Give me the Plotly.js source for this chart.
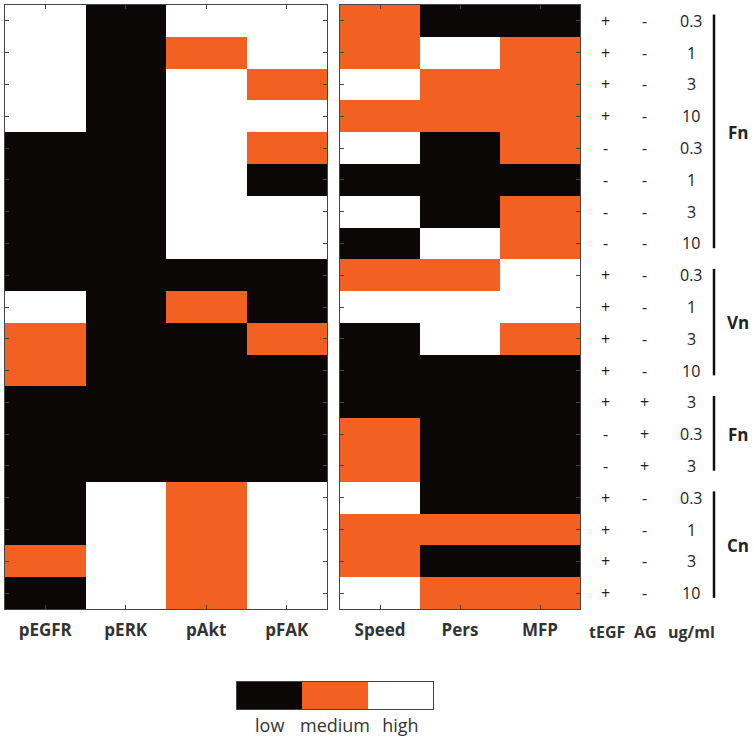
<!DOCTYPE html>
<html>
<head>
<meta charset="utf-8">
<script src="https://cdn.plot.ly/plotly-3.0.1.min.js"></script>
<style>
  body { margin: 0; background: #fff; }
  #chart { width: 754px; height: 739px; }
</style>
</head>
<body>
<div id="chart"></div>
<script>
// 0 = low, 1 = medium, 2 = high  (19 conditions, top to bottom)
const pEGFR = [2, 2, 2, 2, 0, 0, 0, 0, 0, 2, 1, 1, 0, 0, 0, 0, 0, 1, 0];
const pERK  = [0, 0, 0, 0, 0, 0, 0, 0, 0, 0, 0, 0, 0, 0, 0, 2, 2, 2, 2];
const pAkt  = [2, 1, 2, 2, 2, 2, 2, 2, 0, 1, 0, 0, 0, 0, 0, 1, 1, 1, 1];
const pFAK  = [2, 2, 1, 2, 1, 0, 2, 2, 0, 0, 1, 0, 0, 0, 0, 2, 2, 2, 2];
const speed = [1, 1, 2, 1, 2, 0, 2, 0, 1, 2, 0, 0, 0, 1, 1, 2, 1, 1, 2];
const pers  = [0, 2, 1, 1, 0, 0, 0, 2, 1, 2, 2, 0, 0, 0, 0, 0, 1, 0, 1];
const mfp   = [0, 1, 1, 1, 1, 0, 1, 1, 2, 2, 1, 0, 0, 0, 0, 0, 1, 0, 1];

const signalLabels = ['pEGFR', 'pERK', 'pAkt', 'pFAK'];
const phenoLabels = ['Speed', 'Pers', 'MFP'];

const tEGF = ['+', '+', '+', '+', '-', '-', '-', '-', '+', '+', '+', '+', '+', '-', '-', '+', '+', '+', '+'];
const AG   = ['-', '-', '-', '-', '-', '-', '-', '-', '-', '-', '-', '-', '+', '+', '+', '-', '-', '-', '-'];
const conc = ['0.3', '1', '3', '10', '0.3', '1', '3', '10', '0.3', '1', '3', '10', '3', '0.3', '3', '0.3', '1', '3', '10'];

// 基質グループ（開始行, 終了行, ラベル）
const groups = [
    { first: 0, last: 7, name: 'Fn' },
    { first: 8, last: 11, name: 'Vn' },
    { first: 12, last: 14, name: 'Fn' },
    { first: 15, last: 18, name: 'Cn' }
];

const levelLabels = ['low', 'medium', 'high'];

const W = 754, H = 739;
const px = v => v / W;
const py = v => 1 - v / H;

const rows = pEGFR.map((_, i) => i);
const colorscale = [[0, '#0b0707'], [0.5, '#f26122'], [1, '#ffffff']];

const leftZ = rows.map(i => [pEGFR[i], pERK[i], pAkt[i], pFAK[i]]);
const rightZ = rows.map(i => [speed[i], pers[i], mfp[i]]);

const base = { type: 'heatmap', colorscale: colorscale, zmin: 0, zmax: 2, showscale: false, hoverinfo: 'skip' };

const traces = [
    Object.assign({}, base, { z: leftZ, x: [0, 1, 2, 3], y: rows, xaxis: 'x', yaxis: 'y' }),
    Object.assign({}, base, { z: rightZ, x: [0, 1, 2], y: rows, xaxis: 'x2', yaxis: 'y2' }),
    Object.assign({}, base, { z: [[0, 1, 2]], x: [0, 1, 2], y: [0], xaxis: 'x3', yaxis: 'y3' })
];

const FAMILY = 'Open Sans, sans-serif';
const labelFont = { family: FAMILY, size: 17, color: '#333' };

function panelX(domain, labels) {
    return {
        domain: domain,
        range: [-0.5, labels.length - 0.5],
        tickvals: labels.map((_, i) => i),
        ticktext: labels.map(s => '<b>' + s + '</b>'),
        ticks: 'inside', ticklen: 4, tickcolor: '#444',
        showline: true, linecolor: '#444', linewidth: 1, mirror: 'ticks',
        showgrid: false, zeroline: false,
        tickfont: labelFont, ticklabelstandoff: 6, fixedrange: true
    };
}

function panelY(anchor) {
    return {
        domain: [py(609), py(5)],
        range: [18.5, -0.5],
        tickvals: rows, showticklabels: false,
        ticks: 'inside', ticklen: 4, tickcolor: '#444',
        showline: true, linecolor: '#444', linewidth: 1, mirror: 'ticks',
        showgrid: false, zeroline: false, anchor: anchor, fixedrange: true
    };
}

const annotations = [];
const textFont = { family: FAMILY, size: 16, color: '#222' };

function addText(x, y, yref, text, font) {
    annotations.push({
        xref: 'paper', yref: yref, x: x, y: y, text: text,
        xanchor: 'center', yanchor: 'middle', showarrow: false, font: font
    });
}

rows.forEach(i => {
    addText(px(605), i, 'y', tEGF[i], textFont);
    addText(px(644), i, 'y', AG[i], textFont);
    addText(px(691), i, 'y', conc[i], textFont);
});

const headFont = { family: FAMILY, size: 16, color: '#333' };
[['tEGF', 607], ['AG', 645], ['ug/ml', 691]].forEach(([t, x]) => {
    addText(px(x), py(632), 'paper', '<b>' + t + '</b>', headFont);
});

const shapes = [];
groups.forEach(g => {
    shapes.push({
        type: 'line', xref: 'paper', yref: 'y',
        x0: px(714), x1: px(714), y0: g.first - 0.2, y1: g.last + 0.15,
        line: { color: '#111', width: 2.5 }
    });
    addText(px(738), (g.first + g.last) / 2, 'y', '<b>' + g.name + '</b>',
        { family: FAMILY, size: 17, color: '#222' });
});

const layout = {
    width: W, height: H,
    margin: { l: 0, r: 0, t: 0, b: 0 },
    paper_bgcolor: '#fff', plot_bgcolor: '#fff',
    showlegend: false,
    xaxis: Object.assign(panelX([px(5), px(327)], signalLabels), { anchor: 'y' }),
    yaxis: panelY('x'),
    xaxis2: Object.assign(panelX([px(340), px(580)], phenoLabels), { anchor: 'y2' }),
    yaxis2: panelY('x2'),
    xaxis3: {
        domain: [px(237), px(433)], anchor: 'y3',
        range: [-0.5, 2.5], tickvals: [0, 1, 2], ticktext: levelLabels,
        ticks: '', showline: true, linecolor: '#444', linewidth: 1, mirror: true,
        showgrid: false, zeroline: false,
        tickfont: { family: FAMILY, size: 18, color: '#333' },
        ticklabelstandoff: 0, fixedrange: true
    },
    yaxis3: {
        domain: [py(709), py(682)], anchor: 'x3',
        range: [-0.5, 0.5], showticklabels: false, ticks: '',
        showline: true, linecolor: '#444', linewidth: 1, mirror: true,
        showgrid: false, zeroline: false, fixedrange: true
    },
    annotations: annotations,
    shapes: shapes
};

Plotly.newPlot('chart', traces, layout, { displayModeBar: false, staticPlot: true });
</script>
</body>
</html>
